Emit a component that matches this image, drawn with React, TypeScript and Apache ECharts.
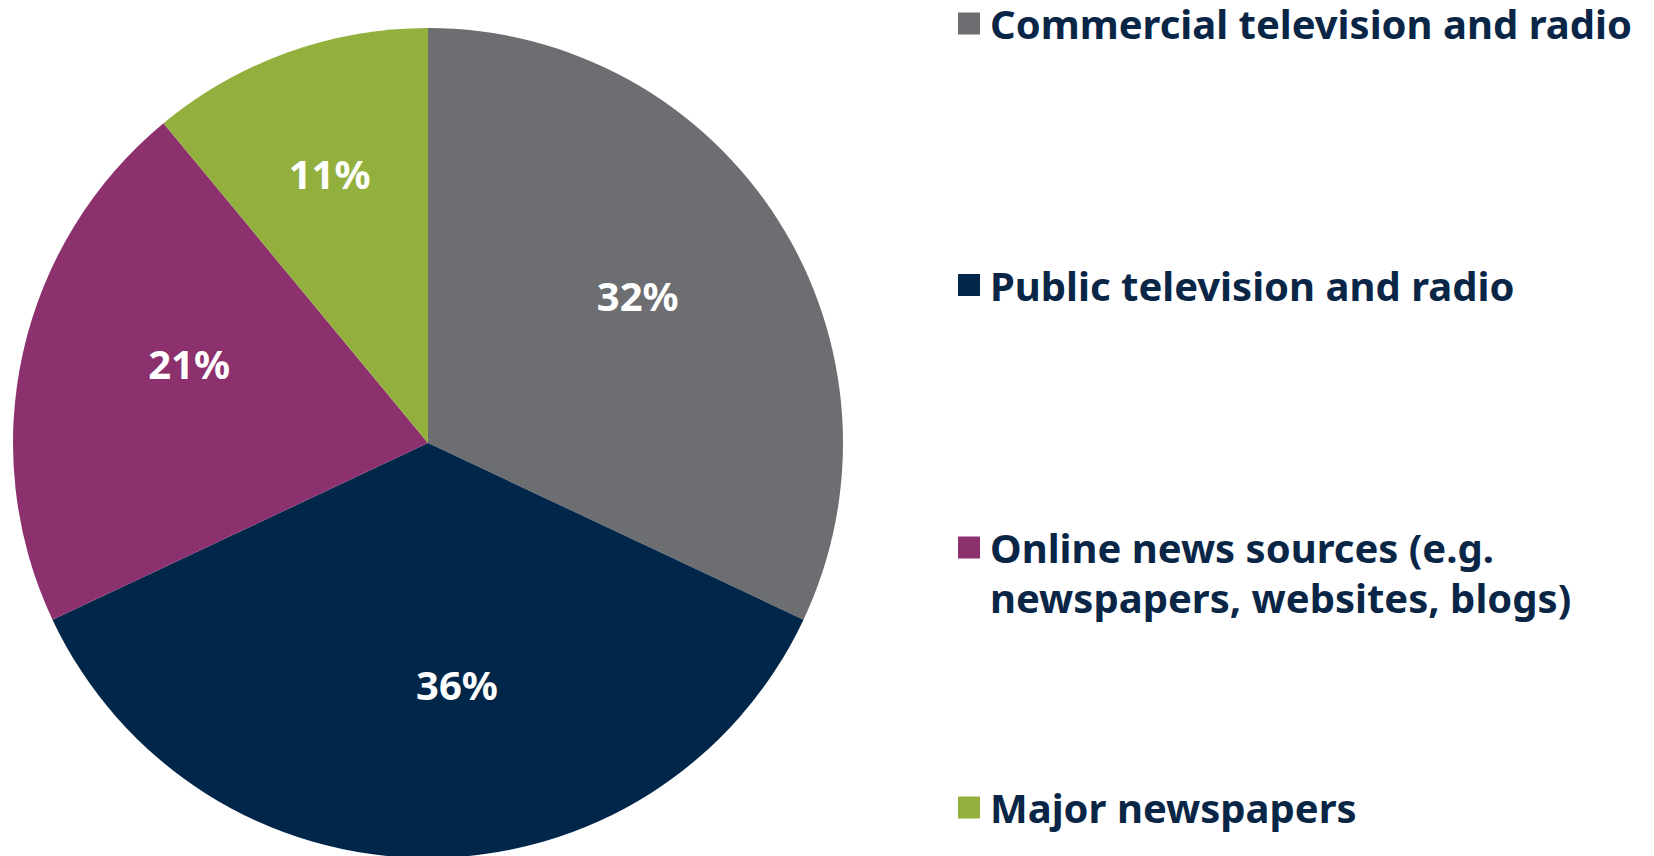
import React, { useEffect, useRef } from "react";
import * as echarts from "echarts";

const categories = [
  "Commercial television and radio",
  "Public television and radio",
  "Online news sources (e.g. newspapers, websites, blogs)",
  "Major newspapers",
];
const legendLabels = [
  "Commercial television and radio",
  "Public television and radio",
  "Online news sources (e.g.\nnewspapers, websites, blogs)",
  "Major newspapers",
];
const values = [32, 36, 21, 11];
const colors = ["#6D6E71", "#00264A", "#8C306E", "#93B03F"];
// small nudges of the percentage labels (styling only)
const labelNudges = [
  [-3, -12],
  [29, -11],
  [7, -25],
  [-13, -32],
];

const FONT = "'Noto Sans', 'DejaVu Sans', sans-serif";
const TEXT_COLOR = "#0A2647";

export default function App() {
  const ref = useRef<HTMLDivElement>(null);
  useEffect(() => {
    if (!ref.current) return;
    const chart = echarts.init(ref.current, undefined, { renderer: "svg" });
    const data = categories.map((name, i) => ({
      name,
      value: values[i],
      itemStyle: { color: colors[i] },
    }));
    const legendCenters = [23.5, 285, 547.5, 807.5];
    const legendGraphics: any[] = [];
    legendLabels.forEach((label, i) => {
      const cy = legendCenters[i];
      const multi = label.indexOf("\n") >= 0;
      legendGraphics.push({
        type: "rect",
        shape: { x: 958, y: cy - 11, width: 22, height: 22 },
        style: { fill: colors[i] },
        silent: true,
      });
      legendGraphics.push({
        type: "text",
        x: 990,
        y: multi ? cy - 25 : cy,
        style: {
          text: label,
          fill: TEXT_COLOR,
          font: `bold 40px ${FONT}`,
          lineHeight: multi ? 50 : 42,
          verticalAlign: multi ? "top" : "middle",
          align: "left",
        },
        silent: true,
      });
    });
    chart.setOption({
      animation: false,
      backgroundColor: "#ffffff",
      series: [
        {
          type: "pie",
          center: [428, 443],
          radius: 415,
          startAngle: 90,
          clockwise: true,
          silent: true,
          label: { show: false },
          labelLine: { show: false },
          itemStyle: { borderWidth: 0 },
          data,
        },
        {
          type: "pie",
          center: [428, 443],
          radius: 498,
          startAngle: 90,
          clockwise: true,
          silent: true,
          z: 3,
          itemStyle: { color: "rgba(0,0,0,0)", borderWidth: 0 },
          label: {
            show: true,
            position: "inside",
            formatter: "{c}%",
            color: "#ffffff",
            fontFamily: FONT,
            fontWeight: "bold",
            fontSize: 40,
          },
          labelLayout: (params: any) => ({
            dx: labelNudges[params.dataIndex][0],
            dy: labelNudges[params.dataIndex][1],
          }),
          labelLine: { show: false },
          data: categories.map((name, i) => ({ name, value: values[i] })),
        },
      ],
      graphic: legendGraphics,
    });
    return () => chart.dispose();
  }, []);
  return (
    <div
      ref={ref}
      style={{ position: "fixed", left: 0, top: 0, width: 1654, height: 856 }}
    />
  );
}
